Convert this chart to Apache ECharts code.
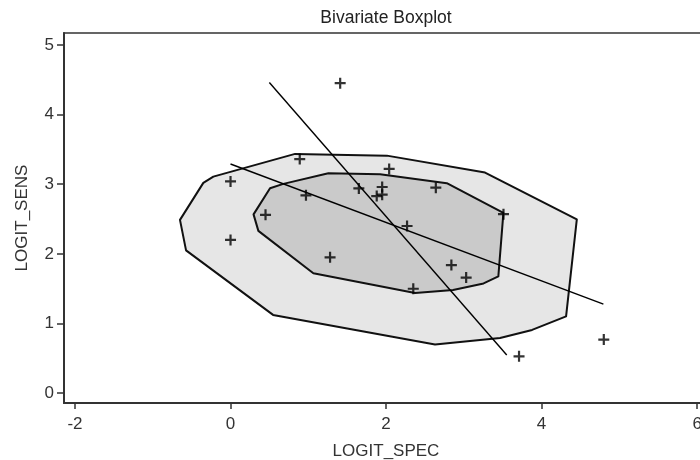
<!DOCTYPE html>
<html>
<head>
<meta charset="utf-8">
<script src="https://cdn.jsdelivr.net/npm/echarts@6/dist/echarts.min.js"></script>
<style>
  html, body { margin: 0; padding: 0; background: #fff; }
  #chart { width: 700px; height: 460px; }
</style>
</head>
<body>
<div id="chart"></div>
<script>
// Observed study pairs: logit specificity (x) and logit sensitivity (y)
const logitSpec = [1.41, 0.89, 0.00, 0.97, 0.45, 0.00, 1.28, 2.04, 1.65, 1.95, 1.88, 1.95, 2.64, 3.51, 2.27, 2.84, 3.03, 2.35, 3.71, 4.80];
const logitSens = [4.45, 3.36, 3.04, 2.84, 2.56, 2.20, 1.95, 3.22, 2.94, 2.96, 2.83, 2.85, 2.95, 2.57, 2.40, 1.84, 1.66, 1.50, 0.53, 0.77];

// Outer contour (fence) vertices
const fenceX = [-0.650, -0.350, -0.221, 0.830, 2.010, 3.273, 4.453, 4.315, 3.878, 3.466, 2.630, 0.547, -0.572];
const fenceY = [2.488, 3.019, 3.109, 3.435, 3.410, 3.167, 2.495, 1.103, 0.909, 0.794, 0.701, 1.124, 2.050];

// Inner contour (hinge) vertices
const hingeX = [0.296, 0.508, 0.679, 1.258, 1.923, 2.781, 3.509, 3.444, 3.254, 2.862, 2.373, 1.065, 0.358];
const hingeY = [2.567, 2.943, 3.005, 3.158, 3.144, 3.015, 2.588, 1.677, 1.576, 1.483, 1.440, 1.723, 2.330];

// Regression lines: y on x, and x on y
const regYonX = [[0.000, 3.29], [4.795, 1.28]];
const regXonY = [[0.499, 4.46], [3.552, 0.55]];

// Axis tick positions
const xTicks = [-2, 0, 2, 4, 6];
const yTicks = [0, 1, 2, 3, 4, 5];

const zip = (xs, ys) => xs.map((x, i) => [x, ys[i]]);

function polygonSeries(name, xs, ys, fill, z) {
  return {
    name: name,
    type: 'custom',
    z: z,
    silent: true,
    data: zip(xs, ys),
    encode: { x: 0, y: 1 },
    renderItem: function (params, api) {
      if (params.dataIndex !== 0) return null;
      const pts = xs.map((x, i) => api.coord([x, ys[i]]));
      return {
        type: 'polygon',
        shape: { points: pts },
        style: { fill: fill, stroke: '#111', lineWidth: 2, lineJoin: 'round' }
      };
    }
  };
}

const FONT = 'Liberation Sans, Arial, sans-serif';
const axisFont = { fontFamily: FONT, fontSize: 17, color: '#333' };

const chart = echarts.init(document.getElementById('chart'), null, { renderer: 'canvas' });
chart.setOption({
  animation: false,
  backgroundColor: '#fff',
  title: {
    text: 'Bivariate Boxplot',
    left: 381,
    textAlign: 'center',
    top: 4,
    textStyle: { fontFamily: FONT, fontSize: 17.5, fontWeight: 'normal', color: '#222' }
  },
  grid: {
    left: 64, width: 644, top: 33, height: 370,
    containLabel: false,
    outerBoundsMode: 'none',
    show: true, borderColor: '#333', borderWidth: 1.5, backgroundColor: 'transparent'
  },
  xAxis: {
    type: 'value',
    min: -2.1415, max: 6.14,
    name: 'LOGIT_SPEC',
    nameLocation: 'middle',
    nameGap: 40,
    nameTextStyle: axisFont,
    axisLine: { show: true, onZero: false, lineStyle: { color: '#333', width: 2 } },
    axisTick: { show: true, length: 6, customValues: xTicks, lineStyle: { color: '#333', width: 1.5 } },
    axisLabel: Object.assign({ customValues: xTicks, margin: 13 }, axisFont),
    splitLine: { show: false }
  },
  yAxis: {
    type: 'value',
    min: -0.14, max: 5.17,
    name: 'LOGIT_SENS',
    nameLocation: 'middle',
    nameGap: 33,
    nameTextStyle: axisFont,
    axisLine: { show: true, onZero: false, lineStyle: { color: '#333', width: 2 } },
    axisTick: { show: true, length: 7, customValues: yTicks, lineStyle: { color: '#333', width: 1.5 } },
    axisLabel: Object.assign({ customValues: yTicks, margin: 10 }, axisFont),
    splitLine: { show: false }
  },
  series: [
    polygonSeries('fence', fenceX, fenceY, '#e6e6e6', 1),
    polygonSeries('hinge', hingeX, hingeY, '#cacaca', 2),
    {
      name: 'y on x', type: 'line', z: 3, silent: true,
      data: regYonX, symbol: 'none',
      lineStyle: { color: '#000', width: 1.4 }
    },
    {
      name: 'x on y', type: 'line', z: 3, silent: true,
      data: regXonY, symbol: 'none',
      lineStyle: { color: '#000', width: 1.4 }
    },
    {
      name: 'studies', type: 'scatter', z: 4, silent: true,
      data: zip(logitSpec, logitSens),
      symbol: 'path://M4,0H6V4H10V6H6V10H4V6H0V4H4Z',
      symbolSize: 11,
      itemStyle: { color: '#000' }
    }
  ]
});
</script>
</body>
</html>
